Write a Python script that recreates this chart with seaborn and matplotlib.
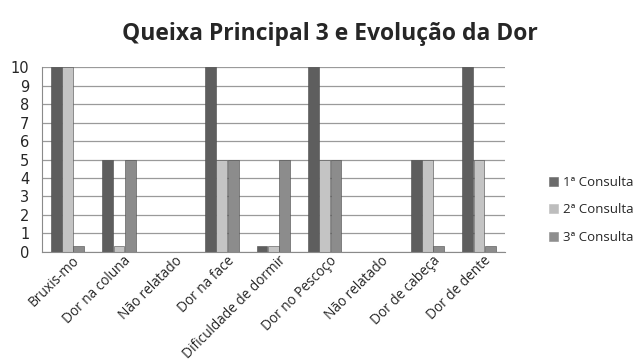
import matplotlib
matplotlib.use("Agg")
import matplotlib.pyplot as plt
import matplotlib.transforms as mtransforms
import seaborn as sns
import pandas as pd
import numpy as np

categories = ["Bruxis-mo", "Dor na coluna", "Não relatado", "Dor na face",
              "Dificuldade de dormir", "Dor no Pescoço", "Não relatado",
              "Dor de cabeça", "Dor de dente"]
series = ["1ª Consulta", "2ª Consulta", "3ª Consulta"]
consulta1 = [10, 5, 0, 10, 0.3, 10, 0, 5, 10]
consulta2 = [10, 0.3, 0, 5, 0.3, 5, 0, 5, 5]
consulta3 = [0.3, 5, 0, 5, 5, 5, 0, 0.3, 0.3]
colors = ["#5e5e5e", "#c4c4c4", "#8c8c8c"]

rows = []
for i, c in enumerate(categories):
    for s, vals in zip(series, [consulta1, consulta2, consulta3]):
        rows.append({"idx": str(i), "serie": s, "valor": vals[i]})
df = pd.DataFrame(rows)

sns.set_style("white")
plt.rcParams["font.family"] = ["DejaVu Sans"]

fig = plt.figure(figsize=(6.34, 3.63), dpi=100)
ax = fig.add_axes([0.066, 0.306, 0.73, 0.509])

sns.barplot(data=df, x="idx", y="valor", hue="serie", order=[str(i) for i in range(len(categories))],
            hue_order=series, palette=colors, width=0.66, gap=0.05, ax=ax,
            edgecolor="#4a4a4a", linewidth=0.4, legend=True)

ax.set_ylim(0, 10)
ax.set_xlim(-0.5, len(categories) - 0.5)
ax.set_yticks(range(0, 11))
ax.yaxis.grid(True, color="#9a9a9a", linewidth=0.9)
ax.set_axisbelow(True)
for sp in ["top", "right"]:
    ax.spines[sp].set_visible(False)
ax.spines["left"].set_color("#8a8a8a")
ax.spines["bottom"].set_color("#8a8a8a")
ax.tick_params(axis="y", length=3, color="#8a8a8a", labelsize=10.5, pad=6)
ax.set_xticks(range(len(categories)))
ax.set_xticklabels(categories, rotation=45, ha="right", va="center", rotation_mode="anchor",
                   fontsize=9.8, family="Open Sans")
ax.tick_params(axis="x", length=0, pad=5)
offset = mtransforms.ScaledTranslation(10 / 100, 0, fig.dpi_scale_trans)
for lab in ax.get_xticklabels():
    lab.set_transform(lab.get_transform() + offset)
ax.set_xticks(np.arange(-0.5, len(categories)), minor=True)
ax.tick_params(axis="x", which="minor", length=6, color="#8a8a8a", direction="out")
ax.set_xlabel("")
ax.set_ylabel("")

leg = ax.legend(loc="center left", bbox_to_anchor=(1.07, 0.227), frameon=False,
                handlelength=0.7, handleheight=0.7, labelspacing=1.1,
                handletextpad=0.4, prop={"family": "Open Sans", "size": 9.5})
for h, c in zip(leg.legend_handles, ["#6b6b6b", "#bdbdbd", "#8e8e8e"]):
    h.set_facecolor(c)
    h.set_edgecolor(c)

fig.suptitle("Queixa Principal 3 e Evolução da Dor", x=0.52, y=0.94,
             fontsize=16.5, fontweight="bold", family="Open Sans")

fig.savefig("out.png", dpi=100, facecolor="white")
